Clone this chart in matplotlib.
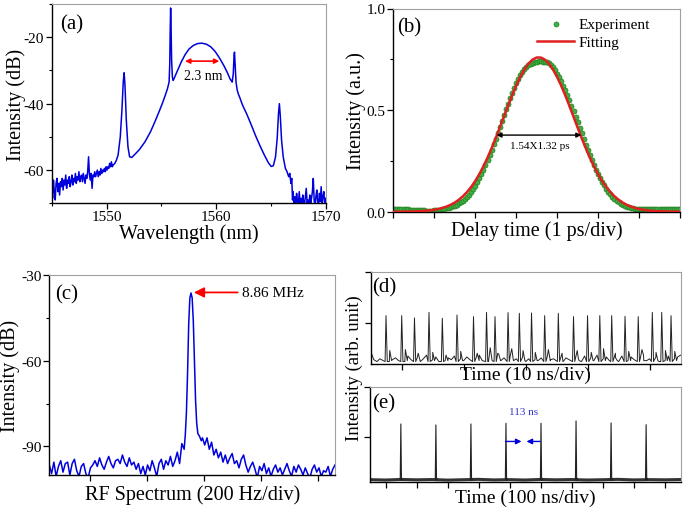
import numpy as np
import matplotlib
matplotlib.use('Agg')
import matplotlib.pyplot as plt
from matplotlib.ticker import MultipleLocator

plt.rcParams['font.family'] = ['Liberation Serif', 'DejaVu Serif']
plt.rcParams['axes.unicode_minus'] = False

BLUE = '#0000dd'

# ---- (a) optical spectrum, nm / dB ----
a_left_db = [-64.5, -68.5, -63.0, -66.5, -69.0, -64.0, -62.5, -66.5, -64.0, -67.5,
             -63.5, -65.0, -62.5, -66.0, -63.0, -64.5, -61.5, -65.5, -63.0, -64.0,
             -62.0, -65.0, -63.5, -61.5, -64.5, -62.5, -63.5, -61.0, -64.0, -62.0,
             -63.0, -60.5, -63.5, -62.0, -61.5, -63.5, -61.0, -62.5, -64.0, -61.5,
             -62.5, -60.5, -56.0, -61.5, -63.0, -61.0, -65.5, -61.5, -62.0, -60.5,
             -62.0, -61.0, -60.0, -62.0, -60.5, -61.5, -59.5, -61.0, -60.0, -60.5,
             -59.5, -60.5, -59.0, -60.0, -59.0, -59.5, -58.0, -59.0, -57.5, -59.0,
             -58.5]
a_mid_wl = [1550.75, 1550.9, 1551.05, 1551.25, 1551.4, 1551.52, 1551.6, 1551.68, 1551.8, 1551.95,
            1552.1, 1552.3, 1552.6, 1553.0, 1553.5, 1554.0, 1554.4, 1554.8, 1555.1, 1555.35,
            1555.55, 1555.7, 1555.76, 1555.8, 1555.84, 1555.88, 1555.93, 1556.0, 1556.06, 1556.15,
            1556.3, 1556.5, 1556.8, 1557.15, 1557.5, 1557.9, 1558.3, 1558.7, 1559.1, 1559.5,
            1559.9, 1560.3, 1560.7, 1561.0, 1561.25, 1561.45, 1561.55, 1561.62, 1561.66, 1561.72,
            1561.8, 1561.9, 1562.0, 1562.1, 1562.4, 1562.8, 1563.2, 1563.6, 1564.0, 1564.4,
            1564.75, 1565.0, 1565.2, 1565.4, 1565.55, 1565.67, 1565.75, 1565.83, 1565.95, 1566.1,
            1566.3, 1566.45, 1566.6, 1566.7, 1566.8, 1566.88, 1566.95]
a_mid_db = [-58.0, -57.0, -55.5, -50.0, -42.0, -33.5, -30.7, -34.5, -45.0, -53.0,
            -56.0, -56.2, -55.2, -53.8, -51.5, -48.5, -45.5, -42.3, -39.8, -37.5,
            -35.5, -33.5, -28.0, -18.0, -11.2, -17.0, -27.0, -32.0, -33.0, -32.5,
            -31.3, -29.8, -27.5, -25.3, -23.6, -22.5, -21.9, -21.8, -22.1, -22.9,
            -24.3, -26.3, -28.6, -30.6, -32.5, -33.5, -31.0, -25.5, -24.5, -28.5,
            -33.5, -35.8, -37.0, -37.8, -40.5, -43.3, -46.5, -49.8, -52.8, -55.6,
            -57.8, -58.9, -58.7, -56.0, -50.5, -43.0, -40.0, -43.5, -51.0, -56.0,
            -59.5, -60.5, -62.0, -61.0, -64.0, -62.5, -69.0]
a_right_db = [-66.5, -70.5, -68.0, -71.0, -67.0, -69.5, -70.5, -66.5, -70.0, -68.5,
              -71.0, -67.5, -69.5, -70.5, -68.0, -65.5, -70.0, -69.0, -71.0, -67.5,
              -70.0, -68.5, -66.5, -62.5, -69.0, -71.0, -68.0, -66.0, -69.5, -70.5,
              -67.0, -69.5, -65.0, -70.5, -68.0, -66.5, -70.0, -68.5]

# ---- (b) autocorrelation, ps / a.u. ----
b_exp = [0.012, 0.012, 0.012, 0.012, 0.011, 0.011, 0.011, 0.011, 0.010, 0.010,
         0.009, 0.008, 0.007, 0.007, 0.006, 0.006, 0.005, 0.005, 0.005, 0.005,
         0.006, 0.007, 0.008, 0.009, 0.011, 0.013, 0.016, 0.019, 0.022, 0.026,
         0.030, 0.035, 0.041, 0.048, 0.055, 0.064, 0.073, 0.084, 0.097, 0.111,
         0.127, 0.145, 0.165, 0.185, 0.207, 0.230, 0.255, 0.280, 0.306, 0.333,
         0.360, 0.389, 0.418, 0.447, 0.476, 0.504, 0.532, 0.559, 0.585, 0.609,
         0.632, 0.653, 0.672, 0.689, 0.703, 0.714, 0.722, 0.728, 0.733, 0.736,
         0.738, 0.740, 0.740, 0.739, 0.738, 0.736, 0.733, 0.724, 0.712, 0.697,
         0.680, 0.662, 0.642, 0.620, 0.597, 0.573, 0.548, 0.522, 0.495, 0.468,
         0.440, 0.412, 0.385, 0.357, 0.330, 0.303, 0.278, 0.253, 0.229, 0.206,
         0.184, 0.164, 0.146, 0.129, 0.113, 0.098, 0.085, 0.073, 0.063, 0.054,
         0.046, 0.039, 0.033, 0.028, 0.024, 0.021, 0.018, 0.016, 0.014, 0.013,
         0.012, 0.011, 0.011, 0.011, 0.011, 0.011, 0.011, 0.011, 0.011, 0.012,
         0.012, 0.012, 0.012, 0.012, 0.012, 0.012, 0.012, 0.012, 0.012, 0.012,
         0.012]
b_fit = [0.0002, 0.0003, 0.0004, 0.0006, 0.0010, 0.0015, 0.0022, 0.0032, 0.0047, 0.0067,
         0.0096, 0.0134, 0.0185, 0.0252, 0.0339, 0.0449, 0.0588, 0.0760, 0.0968, 0.1217,
         0.1509, 0.1847, 0.2229, 0.2655, 0.3121, 0.3619, 0.4140, 0.4674, 0.5205, 0.5719,
         0.6200, 0.6632, 0.6999, 0.7287, 0.7486, 0.7587, 0.7587, 0.7486, 0.7287, 0.6999,
         0.6632, 0.6200, 0.5719, 0.5205, 0.4674, 0.4140, 0.3619, 0.3121, 0.2655, 0.2229,
         0.1847, 0.1509, 0.1217, 0.0968, 0.0760, 0.0588, 0.0449, 0.0339, 0.0252, 0.0185,
         0.0134, 0.0096, 0.0067, 0.0047, 0.0032, 0.0022, 0.0015, 0.0010, 0.0006, 0.0004,
         0.0003]

# ---- (c) RF spectrum, div / dB ----
c_left = [-96.5, -99.5, -95.5, -100.5, -97.0, -95.0, -99.0, -96.0, -95.5, -100.0,
          -96.0, -94.5, -98.5, -100.5, -97.0, -96.0, -99.5, -101.0, -97.5, -96.5,
          -95.0, -97.0, -94.0, -96.5, -98.0, -95.5, -93.5, -96.0, -97.5, -95.0,
          -94.5, -96.0, -93.0, -95.5, -97.0, -94.0, -96.5, -95.5, -98.0, -96.0,
          -99.5, -97.0, -100.0, -96.5, -98.5, -95.0, -97.5, -100.5, -96.0, -94.5,
          -98.0, -95.0, -96.5, -93.5, -97.0, -95.0, -92.0, -96.0, -89.0]
c_peak_x = [2.36, 2.38, 2.40, 2.42, 2.44, 2.46, 2.48, 2.50, 2.52, 2.54, 2.56, 2.58, 2.60, 2.63, 2.66]
c_peak_db = [-91.0, -86.0, -78.0, -64.0, -47.0, -38.0, -36.3, -38.0, -46.0, -60.0, -74.0, -82.0, -85.5, -86.5, -88.0]
c_right = [-87.0, -89.5, -87.0, -91.0, -88.5, -93.0, -91.0, -94.0, -92.0, -95.5,
           -93.0, -96.0, -94.0, -92.5, -96.0, -95.0, -97.5, -94.5, -93.0, -96.5,
           -99.0, -97.0, -95.5, -98.0, -101.0, -97.0, -98.5, -96.0, -99.5, -97.5,
           -100.5, -98.0, -96.5, -99.0, -97.5, -100.0, -98.0, -96.0, -98.5, -100.5,
           -97.0, -99.0, -96.5, -98.0, -100.0, -97.5, -99.5, -101.0, -98.0, -96.5,
           -99.0, -97.5, -100.5, -98.5, -99.0, -97.0, -100.5, -98.0, -96.5]

# ---- (d) pulse train, 10 ns/div ----
d_floor = [0.14, 0.05, 0.03, 0.06, 0.04, 0.08, 0.03, 0.05, 0.07, 0.04,
           0.06, 0.03, 0.09, 0.05, 0.04, 0.07, 0.03, 0.06, 0.10, 0.04,
           0.05, 0.08, 0.03, 0.06, 0.04, 0.07, 0.05, 0.09, 0.03, 0.06,
           0.04, 0.08, 0.05, 0.03, 0.07, 0.10, 0.04, 0.06, 0.03, 0.08,
           0.05, 0.12, 0.04, 0.07, 0.03, 0.09, 0.05, 0.06, 0.04, 0.08,
           0.03, 0.06, 0.10, 0.05, 0.04, 0.07, 0.03, 0.09, 0.05, 0.06,
           0.04, 0.11, 0.03, 0.07, 0.05, 0.08, 0.04, 0.06, 0.03, 0.09,
           0.05, 0.07, 0.04, 0.10, 0.03, 0.06, 0.08, 0.04, 0.05, 0.07,
           0.03, 0.09, 0.06, 0.04, 0.08, 0.05, 0.03, 0.07, 0.10, 0.04,
           0.06, 0.05, 0.08, 0.03, 0.07, 0.04, 0.09, 0.05, 0.06, 0.08, 0.10]
d_t = [2.47, 5.0, 7.06, 9.40, 11.55, 13.92, 16.58, 18.68, 20.05, 22.15, 23.97, 25.94,
       28.06, 30.26, 32.71, 34.97, 36.95, 38.87, 41.02, 43.15, 45.42, 46.94, 48.44]
d_h = [0.529, 0.529, 0.504, 0.565, 0.500, 0.536, 0.518, 0.565, 0.518, 0.562, 0.554, 0.558,
       0.529, 0.554, 0.518, 0.529, 0.529, 0.529, 0.522, 0.518, 0.565, 0.565, 0.529]
d_ring = [0.15, 0.16, 0.12, 0.13, 0.10, 0.14, 0.12, 0.18, 0.11, 0.17, 0.15, 0.13,
          0.16, 0.12, 0.15, 0.13, 0.17, 0.12, 0.14, 0.16, 0.13, 0.15, 0.14]

# ---- (e) pulse train, 100 ns/div ----
e_t = [49.5, 162.5, 275.5, 388.5, 501.5, 614.5, 727.5, 840.5]
e_h = [0.614, 0.604, 0.614, 0.621, 0.621, 0.646, 0.625, 0.607]
e_floor = [0.028, 0.024, 0.030, 0.026, 0.029, 0.023, 0.027, 0.031, 0.025, 0.028, 0.024,
           0.030, 0.026, 0.029, 0.024, 0.027, 0.031, 0.025, 0.028, 0.026, 0.029]


def rect(l, t, r, b):
    return [l / 685, 1 - b / 510, (r - l) / 685, (b - t) / 510]


def style(ax):
    for s in ('top', 'right'):
        ax.spines[s].set_color('#a0a0a0')
        ax.spines[s].set_linewidth(0.8)
    for s in ('left', 'bottom'):
        ax.spines[s].set_color('black')
        ax.spines[s].set_linewidth(1.0)
    ax.tick_params(which='major', length=4, width=0.9, labelsize=11, pad=1.5)
    ax.tick_params(which='minor', length=2.5, width=0.8)


def labels(ax, xlab, xy, ylab=None, yx=None, size=14.5):
    ax.set_xlabel(xlab, fontsize=size, va='center')
    ax.xaxis.set_label_coords(0.5, xy)
    if ylab:
        ax.set_ylabel(ylab, fontsize=size, va='center')
        ax.yaxis.set_label_coords(yx, 0.5)


fig = plt.figure(figsize=(6.85, 5.10), dpi=100)

# (a)
ax = fig.add_axes(rect(51.7, 5, 326, 204.3))
wl = np.concatenate([np.linspace(1545, 1550.6, len(a_left_db)), a_mid_wl,
                     np.linspace(1567.0, 1569.96, len(a_right_db))])
db = np.concatenate([a_left_db, a_mid_db, a_right_db])
ax.plot(wl, db, color=BLUE, lw=1.1)
ax.set_xlim(1545, 1570)
ax.set_ylim(-70, -10)
ax.set_xticks([1550, 1560, 1570])
ax.set_yticks([-60, -40, -20])
ax.xaxis.set_minor_locator(MultipleLocator(5))
ax.yaxis.set_minor_locator(MultipleLocator(10))
ax.annotate('', xy=(1557.15, -27.2), xytext=(1560.28, -27.2),
            arrowprops=dict(arrowstyle='<|-|>', color='red', lw=1.2,
                            mutation_scale=7, shrinkA=0, shrinkB=0))
ax.text(1558.8, -31.5, '2.3 nm', ha='center', va='center', fontsize=10)
ax.text(0.03, 0.9, '(a)', transform=ax.transAxes, fontsize=15, va='center')
labels(ax, 'Wavelength (nm)', -0.148, 'Intensity (dB)', -0.131)
style(ax)
ax.tick_params(axis='x', pad=1)

# (b)
ax = fig.add_axes(rect(393.3, 9.5, 680, 212.7))
ax.plot(np.linspace(0, 7, len(b_fit)), b_fit, color='#e02020', lw=1.8, label='Fitting', zorder=3)
ax.scatter(np.linspace(0, 7, len(b_exp)), b_exp, s=13, facecolor='#3cb043',
           edgecolor='#1f7f1f', linewidths=0.5, label='Experiment', zorder=2)
ax.set_xlim(0, 7)
ax.set_ylim(0, 1)
ax.set_xticks(range(8))
ax.set_xticklabels([])
ax.set_yticks([0, 0.5, 1.0])
ax.set_yticklabels(['0.0', '0.5', '1.0'])
ax.yaxis.set_minor_locator(MultipleLocator(0.25))
ax.annotate('', xy=(2.52, 0.377), xytext=(4.59, 0.377),
            arrowprops=dict(arrowstyle='<|-|>', color='black', lw=1.0,
                            mutation_scale=7, shrinkA=0, shrinkB=0))
ax.text(3.58, 0.325, '1.54X1.32 ps', ha='center', va='center', fontsize=8)
h, l = ax.get_legend_handles_labels()
ax.legend(h[::-1], l[::-1], loc='upper left', bbox_to_anchor=(0.47, 1.0), frameon=False,
          fontsize=11, handlelength=2.4, handletextpad=0.3, labelspacing=0.25,
          borderaxespad=0.2)
ax.text(0.013, 0.91, '(b)', transform=ax.transAxes, fontsize=15, va='center')
labels(ax, 'Delay time (1 ps/div)', -0.09, 'Intensity (a.u.)', -0.128)
style(ax)

# (c)
ax = fig.add_axes(rect(49.3, 276, 335, 476))
cx = np.concatenate([np.linspace(0, 2.32, len(c_left)), c_peak_x,
                     np.linspace(2.68, 5.0, len(c_right))])
cy = np.concatenate([c_left, c_peak_db, c_right])
ax.plot(cx, cy, color=BLUE, lw=1.1)
ax.set_xlim(0, 5)
ax.set_ylim(-100, -30)
ax.set_xticks([0.71, 1.71, 2.71, 3.71, 4.71])
ax.set_xticklabels([])
ax.set_yticks([-90, -60, -30])
ax.yaxis.set_minor_locator(MultipleLocator(15))
ax.annotate('8.86 MHz', xy=(2.53, -36.1), xytext=(3.37, -36.1), va='center', ha='left',
            fontsize=11,
            arrowprops=dict(arrowstyle='-|>', color='red', lw=1.3, mutation_scale=15,
                            shrinkA=1, shrinkB=0))
ax.text(0.02, 0.905, '(c)', transform=ax.transAxes, fontsize=15, va='center')
labels(ax, 'RF Spectrum (200 Hz/div)', -0.095, 'Intensity (dB)', -0.136)
style(ax)

# (d)
ax = fig.add_axes(rect(370.7, 273.3, 680.7, 365.3))
pts = list(zip(np.linspace(0, 50, len(d_floor)), d_floor))
for t, hgt, r in zip(d_t, d_h, d_ring):
    pts = [p for p in pts if abs(p[0] - t) > 0.3]
    pts += [(t - 0.15, 0.03), (t, hgt), (t + 0.2, 0.03), (t + 0.6, r), (t + 0.9, 0.04)]
pts.sort()
ax.plot([p[0] for p in pts], [p[1] for p in pts], color='#222222', lw=0.7)
ax.set_xlim(0, 50)
ax.set_ylim(0, 1)
ax.set_xticks([5, 15, 25, 35, 45])
ax.set_xticklabels([])
ax.set_yticks([0.45, 1.0])
ax.set_yticklabels([])
ax.text(0.005, 0.846, '(d)', transform=ax.transAxes, fontsize=15, va='center')
labels(ax, 'Time (10 ns/div)', -0.11, size=14)
style(ax)

# (e)
ax = fig.add_axes(rect(370, 388.3, 680.7, 483.3))
ax.plot(np.linspace(-50, 950, len(e_floor)), e_floor, color='#333333', lw=2.2)
for t, hgt in zip(e_t, e_h):
    ax.plot([t - 2, t, t + 2, t + 4], [0.03, hgt, 0.02, 0.04], color='#222222', lw=0.8)
ax.set_xlim(-50, 952)
ax.set_ylim(0, 1)
ax.set_xticks(range(0, 1000, 100))
ax.set_xticklabels([])
ax.set_yticks([0.48, 1.0])
ax.set_yticklabels([])
ax.annotate('', xy=(438.7, 0.43), xytext=(387, 0.43),
            arrowprops=dict(arrowstyle='-|>', color=BLUE, lw=1.0, mutation_scale=8,
                            shrinkA=0, shrinkB=0))
ax.annotate('', xy=(454.8, 0.43), xytext=(498.9, 0.43),
            arrowprops=dict(arrowstyle='-|>', color=BLUE, lw=1.0, mutation_scale=8,
                            shrinkA=0, shrinkB=0))
ax.text(444, 0.74, '113 ns', ha='center', va='center', fontsize=8, color='#3333cc')
ax.text(0.006, 0.835, '(e)', transform=ax.transAxes, fontsize=15, va='center')
labels(ax, 'Time (100 ns/div)', -0.16, size=14)
style(ax)

fig.text(354 / 685, 1 - 368 / 510, 'Intensity (arb. unit)', rotation=90,
         ha='center', va='center', fontsize=13.5)

fig.savefig('out.png', dpi=100)
